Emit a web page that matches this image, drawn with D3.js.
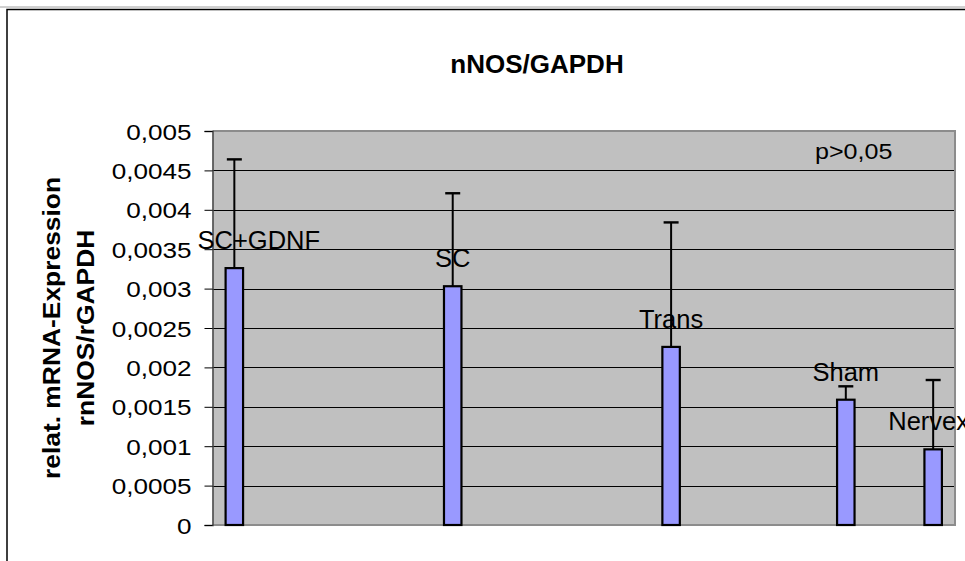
<!DOCTYPE html>
<html>
<head>
<meta charset="utf-8">
<script src="https://cdn.jsdelivr.net/npm/d3@7"></script>
<style>
  html, body { margin: 0; padding: 0; background: #fff; }
  svg { display: block; font-family: "Liberation Sans", Arial, sans-serif; }
</style>
</head>
<body>
<svg id="chart" width="965" height="561"></svg>
<script>
// Category slots along the x axis (blank slots are empty spacer categories)
const categories = ["SC+GDNF", "", "", "", "", "SC", "", "", "", "", "Trans", "", "", "", "Sham", "", "Nervex"];
// Groups with measured values
const groups = ["SC+GDNF", "SC", "Trans", "Sham", "Nervex"];
const means = [0.00326, 0.00303, 0.00226, 0.00159, 0.00096];
const errorsUp = [0.00138, 0.00118, 0.00158, 0.00017, 0.00088];
// Y axis ticks and their labels (decimal comma)
const yTicks = [0, 0.0005, 0.001, 0.0015, 0.002, 0.0025, 0.003, 0.0035, 0.004, 0.0045, 0.005];
const yTickLabels = ["0", "0,0005", "0,001", "0,0015", "0,002", "0,0025", "0,003", "0,0035", "0,004", "0,0045", "0,005"];
const title = "nNOS/GAPDH";
const yTitle = ["relat. mRNA-Expression", "rnNOS/rGAPDH"];
const note = "p>0,05";

const svg = d3.select("#chart");
const W = 965, H = 561;
const plot = { left: 212.5, top: 131, right: 955, bottom: 525 };

// Chart area frame
svg.append("line").attr("x1", 0).attr("x2", W).attr("y1", 7).attr("y2", 7)
  .attr("stroke", "#a0a0a0").attr("stroke-width", 1);
svg.append("rect").attr("x", 7).attr("y", 9.5).attr("width", 1000).attr("height", 600)
  .attr("fill", "#fff").attr("stroke", "#000").attr("stroke-width", 1.5);

const x = d3.scaleBand().domain(d3.range(categories.length))
  .range([plot.left, plot.right]).paddingInner(0).paddingOuter(0);
const y = d3.scaleLinear().domain([0, 0.005]).range([plot.bottom, plot.top]);

// Plot area background
svg.append("rect").attr("x", plot.left).attr("y", plot.top)
  .attr("width", plot.right - plot.left).attr("height", plot.bottom - plot.top)
  .attr("fill", "#c0c0c0");

// Horizontal gridlines
svg.append("g").selectAll("line").data(yTicks.filter(t => t > 0 && t < 0.005)).join("line")
  .attr("x1", plot.left).attr("x2", plot.right)
  .attr("y1", d => Math.round(y(d)) + 0.5).attr("y2", d => Math.round(y(d)) + 0.5)
  .attr("stroke", "#000").attr("stroke-width", 1);

// Plot area border (top, right, bottom)
svg.append("path")
  .attr("d", `M${plot.left},${plot.top}H${plot.right}V${plot.bottom}H${plot.left}`)
  .attr("fill", "none").attr("stroke", "#8c8c8c").attr("stroke-width", 2);

// Y axis
const yAxis = d3.axisLeft(y).tickValues(yTicks)
  .tickFormat((d, i) => yTickLabels[i]).tickSizeOuter(0).tickSize(8);
const gy = svg.append("g").attr("transform", `translate(${plot.left},0)`).call(yAxis);
gy.select(".domain").attr("stroke", "#444").attr("stroke-width", 1.5);
gy.selectAll(".tick line").attr("stroke", "#000").attr("stroke-width", 1);
gy.selectAll(".tick text")
  .attr("x", null).attr("dy", "0.36em")
  .attr("transform", "translate(-21,0) scale(1.16,1)")
  .attr("font-size", 22.5).attr("fill", "#000")
  .attr("font-family", "Liberation Sans, Arial, sans-serif");

// Bars
const data = groups.map((g, i) => ({ name: g, slot: categories.indexOf(g), mean: means[i], err: errorsUp[i] }));
const bw = x.bandwidth();
const barW = bw * 0.4;

svg.append("g").selectAll("rect").data(data).join("rect")
  .attr("x", d => x(d.slot) + (bw - barW) / 2)
  .attr("y", d => y(d.mean))
  .attr("width", barW)
  .attr("height", d => y(0) - y(d.mean))
  .attr("fill", "#9999ff").attr("stroke", "#000").attr("stroke-width", 2.2);

// Upper error bars
const eg = svg.append("g").attr("stroke", "#000");
eg.selectAll("line.v").data(data).join("line").attr("class", "v")
  .attr("x1", d => x(d.slot) + bw / 2).attr("x2", d => x(d.slot) + bw / 2)
  .attr("y1", d => y(d.mean)).attr("y2", d => y(d.mean + d.err))
  .attr("stroke-width", 2);
eg.selectAll("line.cap").data(data).join("line").attr("class", "cap")
  .attr("x1", d => x(d.slot) + bw / 2 - 7.5).attr("x2", d => x(d.slot) + bw / 2 + 7.5)
  .attr("y1", d => y(d.mean + d.err)).attr("y2", d => y(d.mean + d.err))
  .attr("stroke-width", 2.4);

// Category labels above each bar, kept inside the chart area
const labels = svg.append("g").selectAll("text").data(data).join("text")
  .attr("x", d => x(d.slot) + bw / 2)
  .attr("y", d => y(d.mean) - 19)
  .attr("text-anchor", "middle")
  .attr("font-size", 25.5).attr("fill", "#000")
  .text(d => d.name);
labels.each(function () {
  const t = d3.select(this);
  const w = this.getComputedTextLength();
  const cx = +t.attr("x");
  let left = cx - w / 2;
  if (left < plot.left - 15) left = plot.left - 15;
  if (left + w > 969) left = 969 - w;
  t.attr("x", left + w / 2);
});

// Significance note
svg.append("text").attr("x", 815).attr("y", 159.5)
  .attr("transform", "translate(815,159.5) scale(1.14,1) translate(-815,-159.5)")
  .attr("font-size", 22).attr("fill", "#000").text(note);

// Title
svg.append("text").attr("x", 537).attr("y", 73).attr("text-anchor", "middle")
  .attr("font-size", 26).attr("font-weight", "bold").attr("fill", "#000").text(title);

// Y axis title (two lines, rotated)
const yt = svg.append("g");
yt.append("text")
  .attr("transform", `translate(59.5,${(plot.top + plot.bottom) / 2}) rotate(-90) scale(1.1,1)`)
  .attr("text-anchor", "middle").attr("font-size", 24).attr("font-weight", "bold")
  .text(yTitle[0]);
yt.append("text")
  .attr("transform", `translate(93.5,${(plot.top + plot.bottom) / 2}) rotate(-90) scale(1.1,1)`)
  .attr("text-anchor", "middle").attr("font-size", 24).attr("font-weight", "bold")
  .text(yTitle[1]);
</script>
</body>
</html>
